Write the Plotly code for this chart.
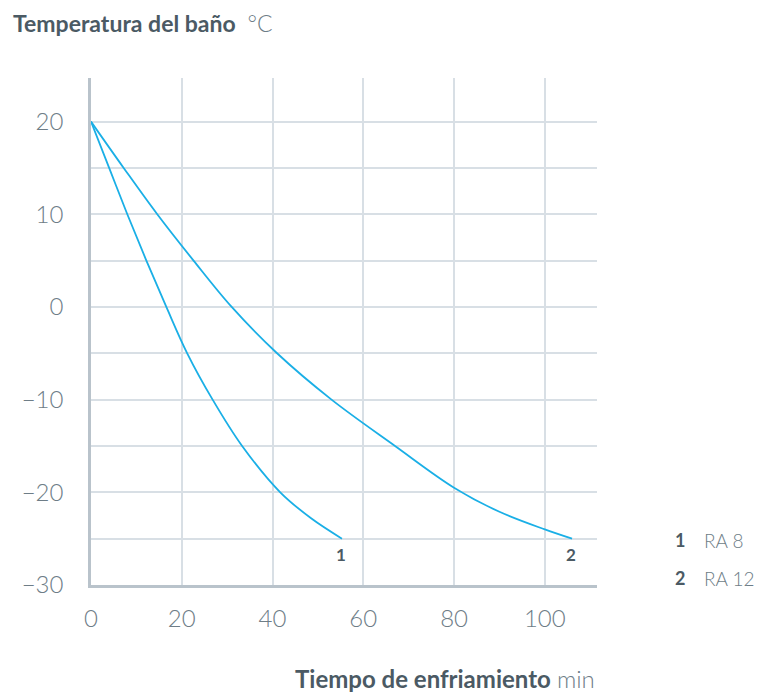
import plotly.graph_objects as go

# Data
t1 = [0, 4, 8, 12.2, 16.6, 21.2, 26.8, 33.3, 41.7, 48.5, 55.3]
temp1 = [20, 15, 10, 5, 0, -5, -10, -15, -20, -22.8, -25]
t2 = [0, 7.2, 14.6, 22.6, 31, 41, 53, 67, 80, 90, 100, 106]
temp2 = [20, 15, 10, 5, 0, -5, -10, -15, -19.5, -22.1, -24, -25]
series_ids = ["1", "2"]
series_names = ["RA 8", "RA 12"]
x_ticks = [0, 20, 40, 60, 80, 100]
y_ticks = [-30, -20, -10, 0, 10, 20]

LINE = "#1aafe6"
DARK = "#4b5a64"
GRAY = "#6e7d87"
GRID = "#d8dfe5"
AXIS = "#b9c3cb"
FONT = "Lato"

# page geometry (browser body has an 8px margin)
OFF = 8
PL, PR, PT, PB = 91, 597, 78, 585  # plot area in page pixels


def px(xp):
    return (xp - PL) / (PR - PL)


def py(yp):
    return (PB - yp) / (PB - PT)


fig = go.Figure()
for xs, ys in [(t1, temp1), (t2, temp2)]:
    fig.add_trace(go.Scatter(x=xs, y=ys, mode="lines",
                             line=dict(color=LINE, width=1.8, shape="spline", smoothing=1.0),
                             showlegend=False, hoverinfo="skip"))

# curve end labels
for sid, xs, ys in [(series_ids[0], t1, temp1), (series_ids[1], t2, temp2)]:
    fig.add_annotation(x=xs[-1] - 0.3, y=ys[-1] - 1.7, text=sid, showarrow=False,
                       font=dict(family=FONT, size=17, color=DARK, weight="bold"))

# legend-like text on the right
for i, (sid, nm) in enumerate(zip(series_ids, series_names)):
    yp = 540 + i * 38
    fig.add_annotation(xref="paper", yref="paper", x=px(680), y=py(yp), text=sid,
                       showarrow=False, xanchor="center", yanchor="middle",
                       font=dict(family=FONT, size=18, color=DARK, weight="bold"))
    fig.add_annotation(xref="paper", yref="paper", x=px(702), y=py(yp), text=nm,
                       showarrow=False, xanchor="left", yanchor="middle",
                       font=dict(family=FONT, size=19, color=GRAY, weight=300))

# Y title
fig.add_annotation(xref="paper", yref="paper", x=px(11), y=py(23),
                   xanchor="left", yanchor="middle", showarrow=False,
                   text="<b>Temperatura del baño</b>  <span style='font-weight:300;color:%s'>°C</span>" % GRAY,
                   font=dict(family=FONT, size=23, color=DARK))
# X title
fig.add_annotation(xref="paper", yref="paper", x=1.0, y=py(678),
                   xanchor="right", yanchor="middle", showarrow=False,
                   text="<b>Tiempo de enfriamiento</b> <span style='font-weight:300;color:%s'>min</span>" % GRAY,
                   font=dict(family=FONT, size=24, color=DARK))

fig.update_xaxes(range=[0, 111.5], tickvals=x_ticks, showgrid=True, gridcolor=GRID,
                 gridwidth=1.5, zeroline=False, showline=True, linecolor=AXIS, linewidth=2.5,
                 ticks="", ticklabelstandoff=10,
                 tickfont=dict(family=FONT, size=24, color=GRAY, weight=300))
fig.update_yaxes(range=[-30, 24.7], tickvals=y_ticks, showgrid=True, gridcolor=GRID,
                 gridwidth=1.5, zeroline=False, showline=True, linecolor=AXIS, linewidth=2.5,
                 ticks="", ticklabelstandoff=20,
                 minor=dict(dtick=5, showgrid=True, gridcolor=GRID, gridwidth=1.5),
                 tickfont=dict(family=FONT, size=24, color=GRAY, weight=300))

W, H = 771 - OFF, 697 - OFF
fig.update_layout(width=W, height=H,
                  margin=dict(l=PL - OFF, r=W - (PR - OFF), t=PT - OFF, b=H - (PB - OFF)),
                  plot_bgcolor="white", paper_bgcolor="white",
                  showlegend=False)

fig.write_html("out.html")
